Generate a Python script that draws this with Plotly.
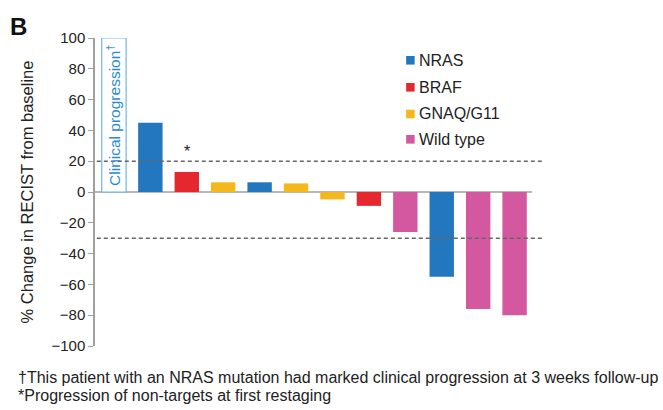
import plotly.graph_objects as go

# ---- data ----
patients = list(range(12))
mutation = ["NRAS", "NRAS", "BRAF", "GNAQ/G11", "NRAS", "GNAQ/G11",
            "GNAQ/G11", "BRAF", "Wild type", "NRAS", "Wild type", "Wild type"]
pct_change = [None, 45, 13, 6.3, 6.3, 5.6, -4.8, -9, -26, -55, -76, -80]
clinical_progression_value = 100  # patient 0: off-scale, clinical progression
dashed_thresholds = [20, -30]
y_ticks = [100, 80, 60, 40, 20, 0, -20, -40, -60, -80, -100]
y_tick_labels = ["100", "80", "60", "40", "20", "0", "\u221220", "\u221240",
                 "\u221260", "\u221280", "\u2212100"]
groups = ["NRAS", "BRAF", "GNAQ/G11", "Wild type"]
colors = {"NRAS": "#2277bf", "BRAF": "#e5282f", "GNAQ/G11": "#f5b81c",
          "Wild type": "#d4589f"}
footnote1 = "\u2020This patient with an NRAS mutation had marked clinical progression at 3 weeks follow-up"
footnote2 = "*Progression of non-targets at first restaging"

FONT = "Arial, Liberation Sans, sans-serif"
BW = 0.67

fig = go.Figure()

# clinical progression (outlined) bar
fig.add_trace(go.Bar(x=[patients[0]], y=[clinical_progression_value], width=BW,
                     marker=dict(color="white", line=dict(color="#6fb6e6", width=1.2)),
                     showlegend=False, hoverinfo="skip"))

for g in groups:
    xs = [p for p, m, v in zip(patients, mutation, pct_change) if m == g and v is not None]
    ys = [v for p, m, v in zip(patients, mutation, pct_change) if m == g and v is not None]
    fig.add_trace(go.Bar(x=xs, y=ys, width=BW, name=g,
                         marker=dict(color=colors[g], line=dict(width=0)),
                         showlegend=False))

L, R, T, B = 95, 119.5, 38, 64
W, H = 663, 410
pw, ph = W - L - R, H - T - B


def px(x):
    return (x - L) / pw


def py(y):
    return (H - B - y) / ph


XMIN, XMAX = -0.52, 11.78
shapes = [dict(type="line", xref="x", yref="y", x0=XMIN, x1=11.48, y0=0, y1=0,
               line=dict(color="#a0a0a0", width=1.5), layer="below")]
for t in dashed_thresholds:
    shapes.append(dict(type="line", xref="x", yref="y", x0=XMIN + 0.05, x1=XMAX, y0=t, y1=t,
                       line=dict(color="#666666", width=1.5, dash="4px,3px")))

annotations = [
    dict(x=patients[0], y=50, xref="x", yref="y", text="Clinical progression<sup>\u2020</sup>",
         textangle=-90, showarrow=False, font=dict(family=FONT, size=15.5, color="#2a8ad2")),
    dict(x=patients[2], y=26, xref="x", yref="y", text="*", showarrow=False,
         font=dict(family=FONT, size=16, color="#222")),
    dict(x=px(8), y=py(27), xref="paper", yref="paper", xanchor="left", yanchor="middle",
         text="<b>B</b>", showarrow=False, font=dict(family=FONT, size=24, color="#111")),
    dict(x=px(16), y=py(377), xref="paper", yref="paper", xanchor="left", yanchor="middle",
         text=footnote1, showarrow=False, font=dict(family=FONT, size=16, color="#222")),
    dict(x=px(16), y=py(395), xref="paper", yref="paper", xanchor="left", yanchor="middle",
         text=footnote2, showarrow=False, font=dict(family=FONT, size=16, color="#222")),
]

# legend (built from the group list)
legend_y = [60.3, 87.3, 114, 139.3]
for g, ly in zip(groups, legend_y):
    shapes.append(dict(type="rect", xref="paper", yref="paper",
                       x0=px(406.5), x1=px(415), y0=py(ly - 4.3), y1=py(ly + 4.3),
                       fillcolor=colors[g], line=dict(width=0)))
    annotations.append(dict(x=px(417), y=py(ly), xref="paper", yref="paper",
                            xanchor="left", yanchor="middle", text=g, showarrow=False,
                            font=dict(family=FONT, size=16, color="#222")))

fig.update_layout(
    width=W, height=H,
    margin=dict(l=L, r=R, t=T, b=B, pad=0),
    paper_bgcolor="white", plot_bgcolor="white",
    barmode="overlay", showlegend=False,
    font=dict(family=FONT, size=15, color="#222"),
    xaxis=dict(range=[XMIN, XMAX], showticklabels=False, showgrid=False,
               zeroline=False, showline=False, ticks=""),
    yaxis=dict(range=[-100, 100], tickvals=y_ticks, ticktext=y_tick_labels,
               showgrid=False, zeroline=False, showline=True, linecolor="#a0a0a0",
               linewidth=1.5, ticks="outside", ticklen=5, tickcolor="#a0a0a0",
               tickfont=dict(size=15, color="#222"),
               title=dict(text="% Change in RECIST from baseline", standoff=14,
                          font=dict(size=16.5, color="#222"))),
    shapes=shapes, annotations=annotations,
)

fig.write_html("out.html", config={"displayModeBar": False},
               post_script="document.body.style.margin='0';")
